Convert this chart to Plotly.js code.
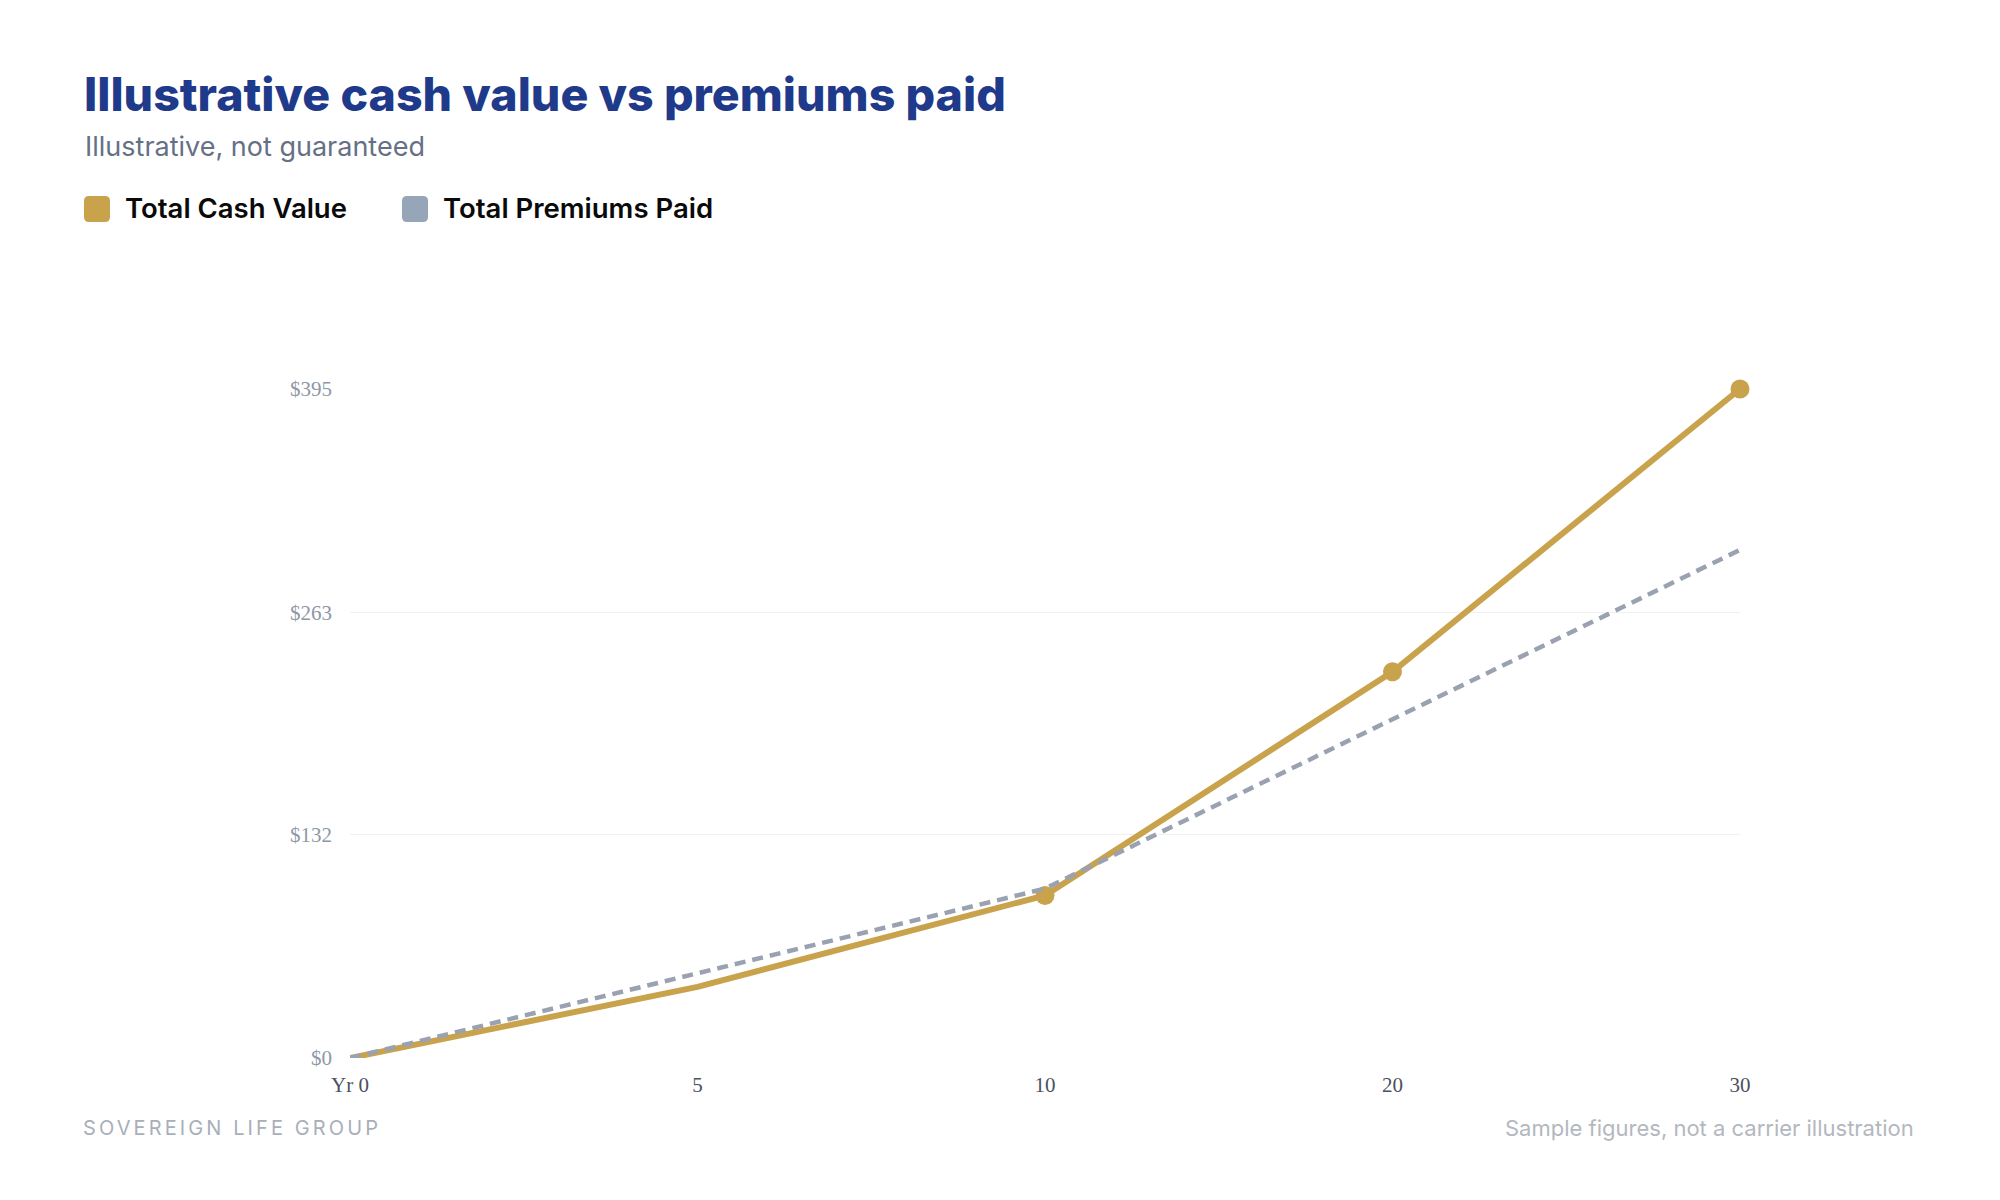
<!DOCTYPE html>
<html>
<head>
<meta charset="utf-8">
<script src="https://cdn.plot.ly/plotly-3.0.1.min.js"></script>
<style>
  html, body { margin: 0; padding: 0; background: #ffffff; }
  #chart { width: 2000px; height: 1200px; }
  .annotation[data-index="5"] text { letter-spacing: 3.1px; }
</style>
</head>
<body>
<div id="chart"></div>
<script>
// ---- data ----
const years = ["Yr 0", "5", "10", "20", "30"];
const cashValue = [0, 42, 96, 228, 395];
const premiumsPaid = [0, 50, 100, 200, 300];
const yTickValues = [0, 132, 263, 395];
const yTickLabels = ["$0", "$132", "$263", "$395"];
const seriesNames = ["Total Cash Value", "Total Premiums Paid"];

// ---- layout geometry (pixels) ----
const W = 2000, H = 1200;
const M = { l: 350, r: 260, t: 389, b: 142 };
const PW = W - M.l - M.r, PH = H - M.t - M.b;
const px = v => (v - M.l) / PW;
const py = v => (H - M.b - v) / PH;

function roundRect(x0, y0, x1, y1, r) {
  const p = (x, y) => px(x) + "," + py(y);
  return "M" + p(x0 + r, y0) + " L" + p(x1 - r, y0) + " Q" + p(x1, y0) + " " + p(x1, y0 + r) +
    " L" + p(x1, y1 - r) + " Q" + p(x1, y1) + " " + p(x1 - r, y1) +
    " L" + p(x0 + r, y1) + " Q" + p(x0, y1) + " " + p(x0, y1 - r) +
    " L" + p(x0, y0 + r) + " Q" + p(x0, y0) + " " + p(x0 + r, y0) + " Z";
}

const GOLD = "#c9a24c";
const SLATE = "#9aa2b1";
const SLATE_SQ = "#97a5b8";

const traces = [
  {
    x: years, y: cashValue, name: seriesNames[0], type: "scatter", mode: "lines+markers",
    line: { color: GOLD, width: 6 },
    marker: { color: GOLD, opacity: 1, line: { width: 0 }, size: years.map((_, i) => i >= 2 ? 19 : 0) },
    cliponaxis: false, hoverinfo: "skip"
  },
  {
    x: years, y: premiumsPaid, name: seriesNames[1], type: "scatter", mode: "lines",
    line: { color: SLATE, width: 4.5, dash: "11px,7px" },
    cliponaxis: false, hoverinfo: "skip"
  }
];

const layout = {
  width: W, height: H,
  margin: { l: M.l, r: M.r, t: M.t, b: M.b, pad: 0 },
  paper_bgcolor: "#ffffff", plot_bgcolor: "#ffffff",
  showlegend: false,
  font: { family: "Inter, sans-serif" },
  xaxis: {
    type: "category", range: [0, 4], showgrid: false, zeroline: false, showline: false,
    ticks: "", ticklabelstandoff: 12,
    tickfont: { family: "Liberation Serif, Times New Roman, serif", size: 21, color: "#4b5160" },
    fixedrange: true
  },
  yaxis: {
    range: [0, 395], tickvals: yTickValues, ticktext: yTickLabels,
    showgrid: true, gridcolor: "#f1f1f3", gridwidth: 1, zeroline: false, showline: false,
    ticks: "", ticklabelstandoff: 17,
    tickfont: { family: "Liberation Serif, Times New Roman, serif", size: 21, color: "#8e97a6" },
    fixedrange: true
  },
  shapes: [
    { type: "path", xref: "paper", yref: "paper", path: roundRect(84, 196, 110, 222, 5), fillcolor: GOLD, line: { width: 0 } },
    { type: "path", xref: "paper", yref: "paper", path: roundRect(402, 196, 428, 222, 5), fillcolor: SLATE_SQ, line: { width: 0 } }
  ],
  annotations: [
    { text: "Illustrative cash value vs premiums paid", xref: "paper", yref: "paper", x: px(82), y: py(94),
      xanchor: "left", yanchor: "middle", showarrow: false,
      font: { family: "Inter, sans-serif", size: 46.5, weight: 800, color: "#1f3a8a" } },
    { text: "Illustrative, not guaranteed", xref: "paper", yref: "paper", x: px(83), y: py(146),
      xanchor: "left", yanchor: "middle", showarrow: false,
      font: { family: "Inter, sans-serif", size: 27, color: "#667085" } },
    { text: seriesNames[0], xref: "paper", yref: "paper", x: px(123), y: py(208),
      xanchor: "left", yanchor: "middle", showarrow: false,
      font: { family: "Inter, sans-serif", size: 27.5, weight: 600, color: "#0a0a0a" } },
    { text: seriesNames[1], xref: "paper", yref: "paper", x: px(441), y: py(208),
      xanchor: "left", yanchor: "middle", showarrow: false,
      font: { family: "Inter, sans-serif", size: 27.5, weight: 600, color: "#0a0a0a" } },
    { text: "Sample figures, not a carrier illustration", xref: "paper", yref: "paper", x: px(1916), y: py(1128),
      xanchor: "right", yanchor: "middle", showarrow: false,
      font: { family: "Inter, sans-serif", size: 22, color: "#b3b8c0" } },
    { text: "SOVEREIGN LIFE GROUP", xref: "paper", yref: "paper", x: px(232), y: py(1128),
      xanchor: "center", yanchor: "middle", showarrow: false,
      font: { family: "Inter, sans-serif", size: 20, color: "#a9afb8" } }
  ]
};

Plotly.newPlot("chart", traces, layout, { displayModeBar: false, staticPlot: true });
</script>
</body>
</html>
